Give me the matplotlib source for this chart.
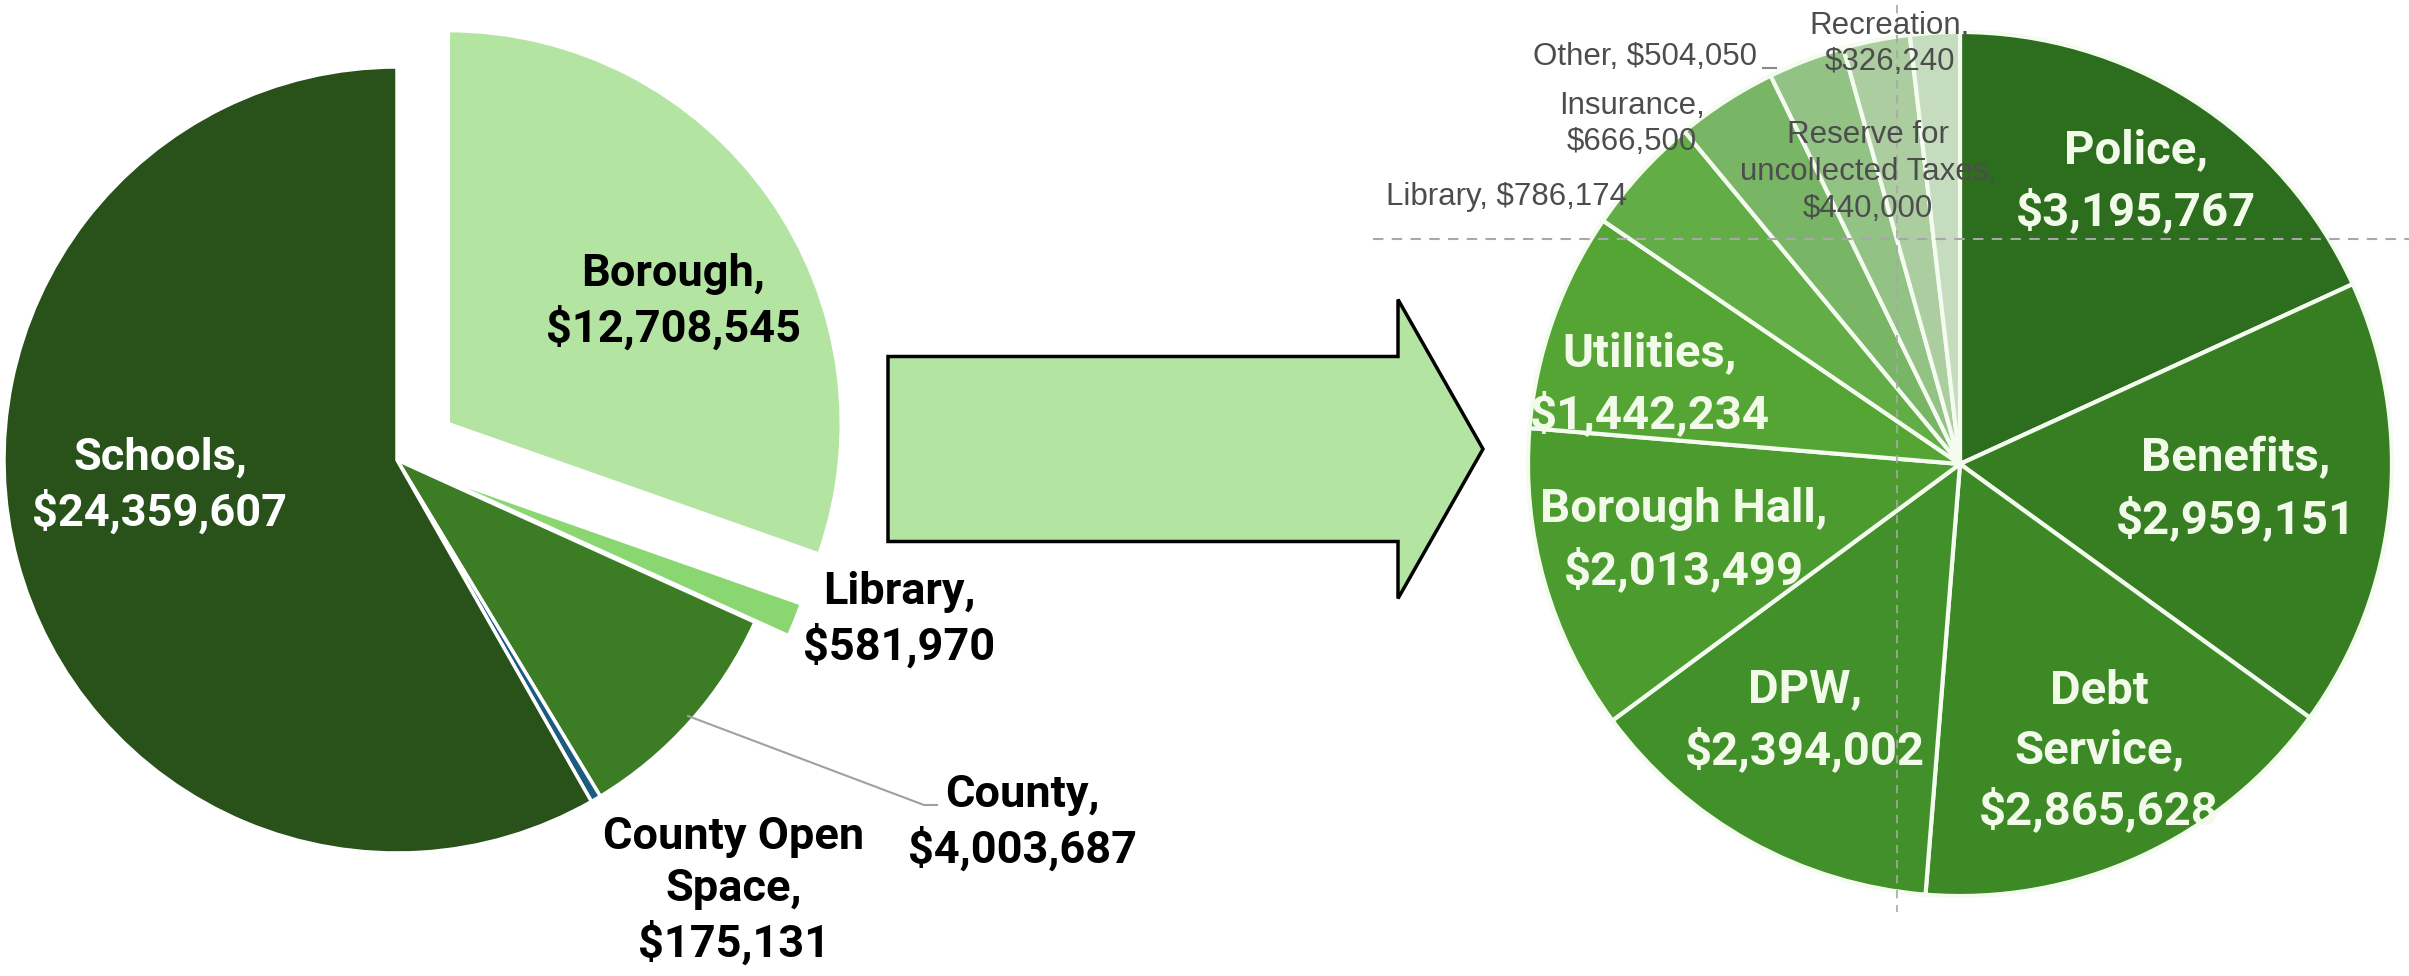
"""
Two pies: the whole tax levy on the left, the Borough budget broken out on the right.
Saves out.png (2409x976).
"""
import matplotlib
matplotlib.use("Agg")
import matplotlib.pyplot as plt
from matplotlib.patches import FancyArrow

# ---- data -------------------------------------------------------------------
LEFT_NAMES = ["Borough", "Library", "County", "County Open\nSpace", "Schools"]
LEFT_VALUES = [12708545, 581970, 4003687, 175131, 24359607]
LEFT_COLORS = ["#b4e4a2", "#8ad671", "#3c7c24", "#1d5b80", "#285219"]
LEFT_EXPLODE = [0.16, 0.092, 0, 0, 0]

RIGHT_NAMES = ["Police", "Benefits", "Debt\nService", "DPW", "Borough Hall",
               "Utilities", "Library", "Insurance", "Other",
               "Reserve for\nuncollected Taxes", "Recreation"]
RIGHT_VALUES = [3195767, 2959151, 2865628, 2394002, 2013499,
                1442234, 786174, 666500, 504050, 440000, 326240]
RIGHT_COLORS = ["#2d6d1e", "#377e22", "#3d8926", "#42902a", "#4b9b2f",
                "#54a534", "#63ad47", "#78b565", "#93c285", "#abcda0", "#c5dcbe"]

# ---- layout (pixels, measured from top-left of the picture) -----------------
W, H = 2409, 976
LEFT_CENTER, LEFT_R = (397, 460), 393
RIGHT_CENTER, RIGHT_R = (1960, 464), 432

LEFT_LABEL_POS = [(673, 302), (899, 620), (1022, 823), (734, 891), (160, 486)]
LEFT_LABEL_COLOR = ["black", "black", "black", "black", "white"]

RIGHT_LABEL_POS = [(2136, 181), (2236, 489), (2099, 751), (1805, 720), (1684, 540),
                   (1650, 384), (1506, 197), (1632, 124), (1645, 57),
                   (1868, 172), (1890, 44)]
RIGHT_SEP = ["\n"] * 6 + [" ", "\n", " ", "\n", "\n"]
RIGHT_BIG = [True] * 6 + [False] * 5

BOLD_FONT = ["Roboto", "Liberation Sans", "DejaVu Sans"]
SMALL_FONT = ["Liberation Sans", "DejaVu Sans"]


def Y(y):
    return H - y


fig = plt.figure(figsize=(W / 100, H / 100), dpi=100)
ax = fig.add_axes([0, 0, 1, 1])

ax.pie(LEFT_VALUES, colors=LEFT_COLORS, startangle=90, counterclock=False,
       center=(LEFT_CENTER[0], Y(LEFT_CENTER[1])), radius=LEFT_R,
       explode=[e * LEFT_R for e in LEFT_EXPLODE],
       wedgeprops=dict(edgecolor="white", linewidth=2.5))

ax.pie(RIGHT_VALUES, colors=RIGHT_COLORS, startangle=90, counterclock=False,
       center=(RIGHT_CENTER[0], Y(RIGHT_CENTER[1])), radius=RIGHT_R,
       wedgeprops=dict(edgecolor="#f4fbef", linewidth=3))

ax.set_xlim(0, W)
ax.set_ylim(0, H)
ax.set_aspect("equal")
ax.axis("off")

# left labels
for name, val, (x, y), c in zip(LEFT_NAMES, LEFT_VALUES, LEFT_LABEL_POS, LEFT_LABEL_COLOR):
    ax.text(x, Y(y), f"{name},\n${val:,}", ha="center", va="center", color=c,
            fontsize=32.5, fontweight="bold", family=BOLD_FONT, linespacing=1.3)

# County leader line
ax.plot([688, 924, 937], [Y(716), Y(805), Y(805)], color="#a0a0a0", lw=1.5)

# right labels
for name, val, (x, y), sep, big in zip(RIGHT_NAMES, RIGHT_VALUES, RIGHT_LABEL_POS,
                                       RIGHT_SEP, RIGHT_BIG):
    if big:
        ax.text(x, Y(y), f"{name},{sep}${val:,}", ha="center", va="center",
                color="#f2fbe9", fontsize=34, fontweight="bold", family=BOLD_FONT,
                linespacing=1.42)
    else:
        ax.text(x, Y(y), f"{name},{sep}${val:,}", ha="center", va="center",
                color="#4d4d4d", fontsize=22.5, family=SMALL_FONT, linespacing=1.3)

# short leader stub after "Other"
ax.plot([1763, 1776], [Y(68), Y(68)], color="#8a8a8a", lw=1.5)

# crosshair dashes over the right pie
ax.plot([1373, W], [Y(239), Y(239)], color="#a8a8a8", lw=1.5, ls=(0, (5, 4)))
ax.plot([1897, 1897], [Y(5), Y(912)], color="#a8a8a8", lw=1.2, ls=(0, (5, 4)))

# big arrow between the pies
ax.add_patch(FancyArrow(888, Y(449), 595, 0, width=185, head_width=299,
                        head_length=85, length_includes_head=True,
                        facecolor="#b4e4a2", edgecolor="black", linewidth=2.5))

fig.savefig("out.png", dpi=100)
